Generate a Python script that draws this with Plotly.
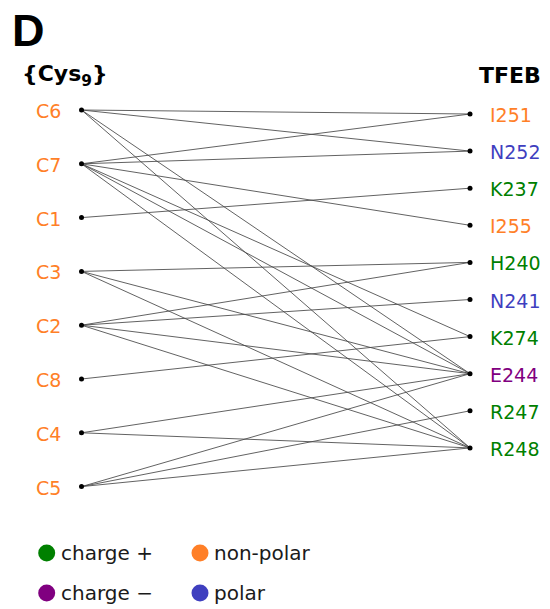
import plotly.graph_objects as go

# ---------------- data ----------------
left_nodes = ["C6", "C7", "C1", "C3", "C2", "C8", "C4", "C5"]
right_nodes = ["I251", "N252", "K237", "I255", "H240", "N241", "K274", "E244", "R247", "R248"]
right_types = ["non-polar", "polar", "charge +", "non-polar", "charge +", "polar",
               "charge +", "charge −", "charge +", "charge +"]
left_types = ["non-polar"] * len(left_nodes)
edges = [
    ("C6", "I251"), ("C6", "N252"), ("C6", "E244"), ("C6", "R248"),
    ("C7", "I251"), ("C7", "N252"), ("C7", "I255"), ("C7", "K274"), ("C7", "E244"), ("C7", "R248"),
    ("C1", "K237"),
    ("C3", "H240"), ("C3", "E244"), ("C3", "R248"),
    ("C2", "H240"), ("C2", "N241"), ("C2", "E244"), ("C2", "R248"),
    ("C8", "K274"),
    ("C4", "E244"), ("C4", "R248"),
    ("C5", "E244"), ("C5", "R247"), ("C5", "R248"),
]
legend_labels = ["charge +", "charge −", "non-polar", "polar"]
left_title = "{Cys<sub>9</sub>}"
right_title = "TFEB"
panel_letter = "D"

type_colors = {
    "charge +": "#008000",
    "charge −": "#800080",
    "non-polar": "#FF7F27",
    "polar": "#3F3FBF",
}

# ---------------- layout constants ----------------
W, H = 550, 609
LEFT_X, RIGHT_X = 81.5, 470
LEFT_Y0, LEFT_STEP = 110, 53.8
RIGHT_Y0, RIGHT_STEP = 114, 37.1
FONT = "DejaVu Sans"

left_pos = {n: (LEFT_X, LEFT_Y0 + i * LEFT_STEP) for i, n in enumerate(left_nodes)}
right_pos = {n: (RIGHT_X, RIGHT_Y0 + i * RIGHT_STEP) for i, n in enumerate(right_nodes)}

fig = go.Figure()

# edges
ex, ey = [], []
for a, b in edges:
    x0, y0 = left_pos[a]
    x1, y1 = right_pos[b]
    ex += [x0, x1, None]
    ey += [y0, y1, None]
fig.add_trace(go.Scatter(x=ex, y=ey, mode="lines",
                         line=dict(color="rgba(70,70,70,0.85)", width=1),
                         hoverinfo="skip", showlegend=False))

# nodes
all_pos = list(left_pos.values()) + list(right_pos.values())
fig.add_trace(go.Scatter(x=[p[0] for p in all_pos], y=[p[1] for p in all_pos], mode="markers",
                         marker=dict(color="black", size=5), showlegend=False))

annotations = []
for n, t in zip(left_nodes, left_types):
    x, y = left_pos[n]
    annotations.append(dict(x=x - 19, y=y + 1, text=n, xanchor="right", yanchor="middle",
                            showarrow=False, font=dict(family=FONT, size=19, color=type_colors[t])))
for n, t in zip(right_nodes, right_types):
    x, y = right_pos[n]
    annotations.append(dict(x=x + 18, y=y + 1, text=n, xanchor="left", yanchor="middle",
                            showarrow=False, font=dict(family=FONT, size=19, color=type_colors[t])))

# titles
annotations.append(dict(x=20, y=75, text="<b>" + left_title + "</b>", xanchor="left", yanchor="middle",
                        showarrow=False, font=dict(family=FONT, size=22, color="black")))
annotations.append(dict(x=543, y=75, text="<b>" + right_title + "</b>", xanchor="right", yanchor="middle",
                        showarrow=False, font=dict(family=FONT, size=22, color="black")))
annotations.append(dict(x=10, y=30, text="<b>" + panel_letter + "</b>", xanchor="left", yanchor="middle",
                        showarrow=False, font=dict(family="Liberation Sans", size=45, color="black")))

# legend (manual)
leg_x = [46.7, 46.7, 200, 200]
leg_y = [553, 593, 553, 593]
fig.add_trace(go.Scatter(x=leg_x, y=leg_y, mode="markers",
                         marker=dict(color=[type_colors[l] for l in legend_labels], size=17),
                         showlegend=False, hoverinfo="skip"))
for l, x, y in zip(legend_labels, leg_x, leg_y):
    annotations.append(dict(x=x + 12, y=y, text=l, xanchor="left", yanchor="middle",
                            showarrow=False, font=dict(family=FONT, size=20, color="#1a1a1a")))

fig.update_layout(
    width=W, height=H,
    margin=dict(l=0, r=0, t=0, b=0),
    paper_bgcolor="white", plot_bgcolor="white",
    xaxis=dict(range=[0, W], visible=False, fixedrange=True),
    yaxis=dict(range=[H, 0], visible=False, fixedrange=True),
    annotations=annotations,
    showlegend=False,
)
fig.write_html("out.html", config={"displayModeBar": False},
               post_script="document.body.style.margin='0';document.body.style.overflow='hidden';")
